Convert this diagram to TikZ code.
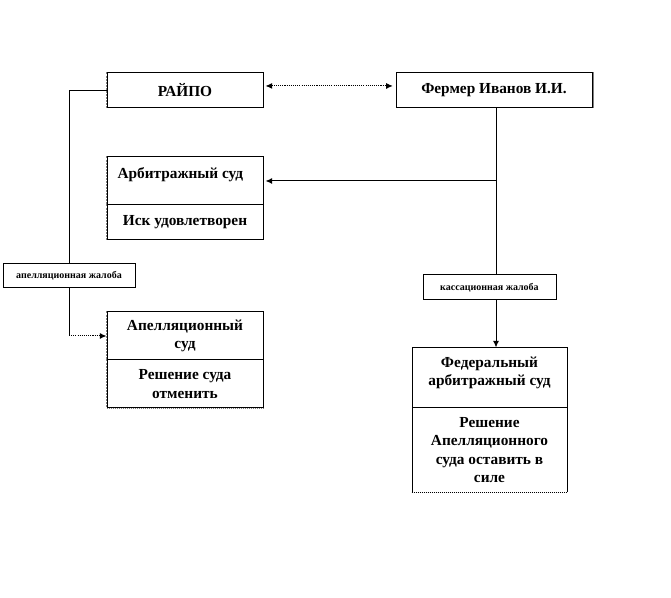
\documentclass[tikz,border=0pt]{standalone}
\usepackage{fontspec}
\setmainfont{Liberation Serif}
\usetikzlibrary{arrows.meta}
\begin{document}
\begin{tikzpicture}[x=0.75pt,y=-0.75pt,line width=0.75pt,
  box/.style={draw,line width=0.75pt,inner sep=0pt,align=center,
    font=\bfseries\fontsize{11.5}{13.6}\selectfont},
  txt/.style={inner sep=0pt,align=center,font=\bfseries\fontsize{11.5}{13.6}\selectfont},
  tag/.style={draw,line width=0.75pt,inner sep=0pt,font=\bfseries\fontsize{7.5}{9}\selectfont},
  tip/.style={-{Latex[length=5pt,width=4.5pt]}},
  ragged/.style={gray,line width=0.9pt,dash pattern=on 1.5pt off 0.8pt},
  wipe/.style={white,line width=1.3pt}]
\useasboundingbox (0,0) rectangle (671,598);

% boxes
\node[box,minimum width=117pt,minimum height=26.25pt] (raypo) at (185,90.5) {РАЙПО};
\node[box,minimum width=147pt,minimum height=26.25pt] (fermer) at (494,90.5) {Фермер Иванов И.И.};
\node[box,minimum width=117pt,minimum height=36pt] (arbT) at (185,181) {};
\node[txt,anchor=west] (arbTtext) at (117,175) {Арбитражный суд};
\node[box,minimum width=117pt,minimum height=26.25pt] (arbB) at (185,222.5) {Иск удовлетворен};
\node[box,minimum width=117pt,minimum height=36pt] (apelT) at (185,336) {Апелляционный\\суд};
\node[box,minimum width=117pt,minimum height=36pt] (apelB) at (185,384) {Решение суда\\отменить};
\node[box,minimum width=116.25pt,minimum height=45pt] (fedT) at (489.5,378) {};
\node[txt] (fedTtext) at (489.5,373) {Федеральный\\арбитражный суд};
\node[box,minimum width=116.25pt,minimum height=63pt] (fedB) at (489.5,450) {Решение\\Апелляционного\\суда оставить в\\силе};
\node[tag,minimum width=99pt,minimum height=18pt] (apel) at (69,276) {апелляционная жалоба};
\node[tag,minimum width=99.75pt,minimum height=18.75pt] (kass) at (489.5,287.5) {кассационная жалоба};

% edge artefacts of the original
\foreach \n in {raypo,arbT,arbB,apelT,apelB}{
  \draw[wipe] (\n.north west) -- (\n.south west);
  \draw[ragged] (\n.north west) -- (\n.south west);
}
\draw[wipe] (apelB.south west) -- (apelB.south east);
\draw[gray,line width=0.9pt,dash pattern=on 0.75pt off 0.75pt] (apelB.south west) -- (apelB.south east);
\draw[wipe] (fedB.south west) -- (fedB.south east);
\draw[black,line width=0.9pt,dash pattern=on 0.75pt off 0.75pt] (fedB.south west) -- (fedB.south east);
\draw[gray,line width=0.9pt] ([xshift=1pt]fermer.north east) -- ([xshift=1pt]fermer.south east);

% connectors
\draw[dash pattern=on 0.8pt off 0.8pt,{Latex[length=5pt,width=4.5pt]}-{Latex[length=5pt,width=4.5pt]},shorten <=1.5pt,shorten >=2pt]
  ([yshift=3.4pt]raypo.east) -- ([yshift=3.4pt]fermer.west);
\coordinate (xl) at (496,0);
\draw (fermer.south -| xl) -- (kass.north -| xl);
\draw[tip] (kass.south -| xl) -- (fedT.north -| xl);
\draw[tip,shorten >=1.5pt] (arbT.east -| xl) -- (arbT.east);
\draw (raypo.west) -| (apel.north);
\coordinate (c1) at (apel.south |- apelT.west);
\draw (apel.south) -- (c1);
\draw[dash pattern=on 0.8pt off 0.8pt,tip] (c1) -- (apelT.west);
\end{tikzpicture}
\end{document}
